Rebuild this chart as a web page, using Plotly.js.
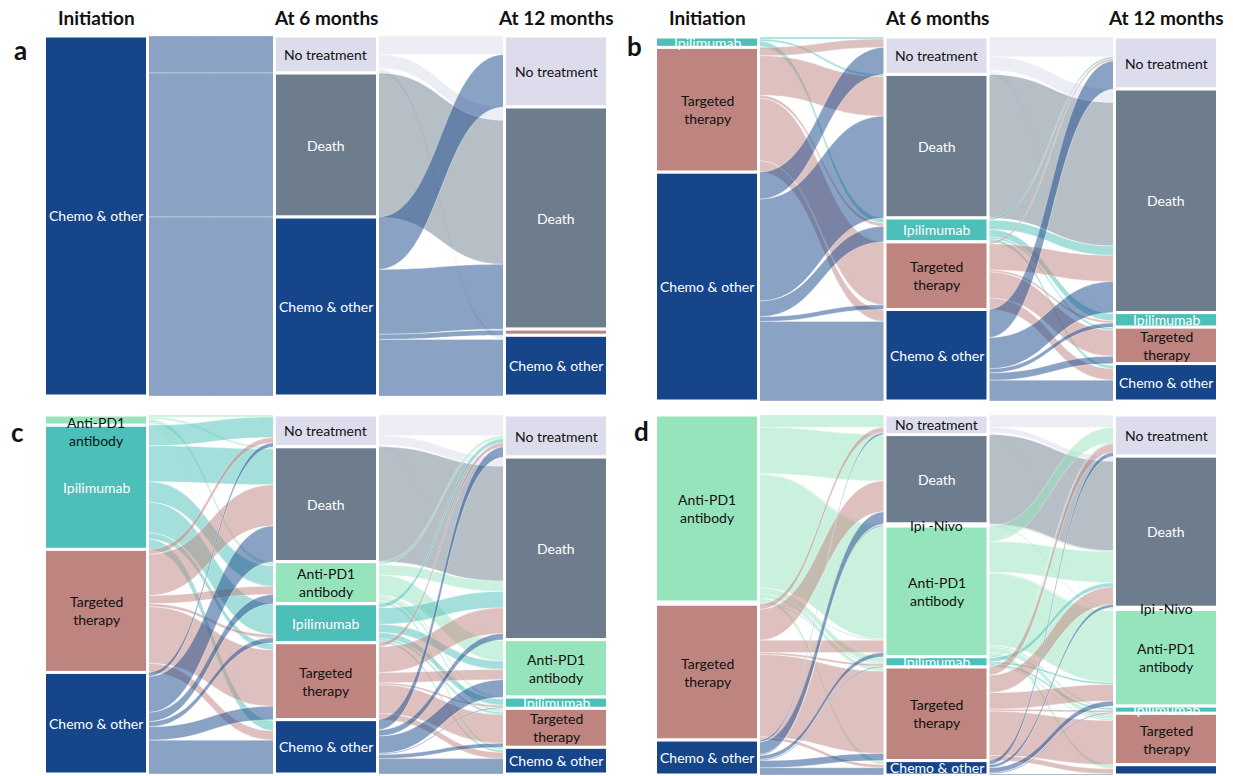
<!DOCTYPE html>
<html>
<head>
<meta charset="utf-8">
<script src="https://cdn.plot.ly/plotly-3.0.1.min.js"></script>
<style>
  html, body { margin: 0; padding: 0; background: #ffffff; }
  #chart { width: 1233px; height: 776px; }
</style>
</head>
<body>
<div id="chart"></div>
<script>
// ---------------- DATA ----------------
const stageHeaders = ["Initiation", "At 6 months", "At 12 months"];
const panelLetters = ["a", "b", "c", "d"];

// Panel a
const aStage0 = ["Chemo & other"];
const aStage6 = ["No treatment", "Death", "Chemo & other"];
const aStage12 = ["No treatment", "Death", "Targeted therapy", "Chemo & other"];
const aFlows1 = [
  ["Chemo & other", "No treatment", 36],
  ["Chemo & other", "Death", 140],
  ["Chemo & other", "Chemo & other", 174]
];
const aFlows2 = [
  ["No treatment", "No treatment", 18], ["No treatment", "Death", 13],
  ["No treatment", "Targeted therapy", 1], ["No treatment", "Chemo & other", 4],
  ["Death", "Death", 140],
  ["Chemo & other", "No treatment", 51], ["Chemo & other", "Death", 63],
  ["Chemo & other", "Targeted therapy", 5], ["Chemo & other", "Chemo & other", 55]
];
const aHidden = [[2, "Targeted therapy"]];

// Panel b
const bStage0 = ["Ipilimumab", "Targeted therapy", "Chemo & other"];
const bStage6 = ["No treatment", "Death", "Ipilimumab", "Targeted therapy", "Chemo & other"];
const bStage12 = ["No treatment", "Death", "Ipilimumab", "Targeted therapy", "Chemo & other"];
const bFlows1 = [
  ["Ipilimumab", "No treatment", 2], ["Ipilimumab", "Death", 2], ["Ipilimumab", "Ipilimumab", 5],
  ["Ipilimumab", "Targeted therapy", 0.5], ["Ipilimumab", "Chemo & other", 0.5],
  ["Targeted therapy", "No treatment", 8], ["Targeted therapy", "Death", 38], ["Targeted therapy", "Ipilimumab", 3],
  ["Targeted therapy", "Targeted therapy", 60], ["Targeted therapy", "Chemo & other", 11],
  ["Chemo & other", "No treatment", 26], ["Chemo & other", "Death", 98], ["Chemo & other", "Ipilimumab", 15],
  ["Chemo & other", "Targeted therapy", 4.5], ["Chemo & other", "Chemo & other", 76.5]
];
const bFlows2 = [
  ["No treatment", "No treatment", 19], ["No treatment", "Death", 13], ["No treatment", "Ipilimumab", 1],
  ["No treatment", "Targeted therapy", 1], ["No treatment", "Chemo & other", 2],
  ["Death", "Death", 138],
  ["Ipilimumab", "No treatment", 2], ["Ipilimumab", "Death", 9], ["Ipilimumab", "Ipilimumab", 7],
  ["Ipilimumab", "Targeted therapy", 2], ["Ipilimumab", "Chemo & other", 3],
  ["Targeted therapy", "No treatment", 2], ["Targeted therapy", "Death", 25], ["Targeted therapy", "Ipilimumab", 2],
  ["Targeted therapy", "Targeted therapy", 25], ["Targeted therapy", "Chemo & other", 11],
  ["Chemo & other", "No treatment", 27], ["Chemo & other", "Death", 30], ["Chemo & other", "Ipilimumab", 4],
  ["Chemo & other", "Targeted therapy", 7], ["Chemo & other", "Chemo & other", 20]
];
const bHidden = [];

// Panel c
const cStage0 = ["Anti-PD1 antibody", "Ipilimumab", "Targeted therapy", "Chemo & other"];
const cStage6 = ["No treatment", "Death", "Anti-PD1 antibody", "Ipilimumab", "Targeted therapy", "Chemo & other"];
const cStage12 = ["No treatment", "Death", "Anti-PD1 antibody", "Ipilimumab", "Targeted therapy", "Chemo & other"];
const cFlows1 = [
  ["Anti-PD1 antibody", "No treatment", 2], ["Anti-PD1 antibody", "Death", 2], ["Anti-PD1 antibody", "Anti-PD1 antibody", 4],
  ["Anti-PD1 antibody", "Targeted therapy", 1], ["Anti-PD1 antibody", "Chemo & other", 1],
  ["Ipilimumab", "No treatment", 20], ["Ipilimumab", "Death", 35], ["Ipilimumab", "Anti-PD1 antibody", 20],
  ["Ipilimumab", "Ipilimumab", 30], ["Ipilimumab", "Targeted therapy", 6], ["Ipilimumab", "Chemo & other", 10],
  ["Targeted therapy", "No treatment", 5], ["Targeted therapy", "Death", 40], ["Targeted therapy", "Anti-PD1 antibody", 8],
  ["Targeted therapy", "Ipilimumab", 3], ["Targeted therapy", "Targeted therapy", 55], ["Targeted therapy", "Chemo & other", 9],
  ["Chemo & other", "No treatment", 4], ["Chemo & other", "Death", 35], ["Chemo & other", "Anti-PD1 antibody", 9],
  ["Chemo & other", "Ipilimumab", 5], ["Chemo & other", "Targeted therapy", 13], ["Chemo & other", "Chemo & other", 33]
];
const cFlows2 = [
  ["No treatment", "No treatment", 20], ["No treatment", "Death", 9], ["No treatment", "Anti-PD1 antibody", 1],
  ["No treatment", "Targeted therapy", 1],
  ["Death", "Death", 112],
  ["Anti-PD1 antibody", "No treatment", 3], ["Anti-PD1 antibody", "Death", 10], ["Anti-PD1 antibody", "Anti-PD1 antibody", 20],
  ["Anti-PD1 antibody", "Ipilimumab", 2], ["Anti-PD1 antibody", "Targeted therapy", 3], ["Anti-PD1 antibody", "Chemo & other", 3],
  ["Ipilimumab", "No treatment", 4], ["Ipilimumab", "Death", 16], ["Ipilimumab", "Anti-PD1 antibody", 8],
  ["Ipilimumab", "Ipilimumab", 6], ["Ipilimumab", "Targeted therapy", 2], ["Ipilimumab", "Chemo & other", 2],
  ["Targeted therapy", "No treatment", 4], ["Targeted therapy", "Death", 25], ["Targeted therapy", "Anti-PD1 antibody", 10],
  ["Targeted therapy", "Ipilimumab", 2], ["Targeted therapy", "Targeted therapy", 28], ["Targeted therapy", "Chemo & other", 6],
  ["Chemo & other", "No treatment", 10], ["Chemo & other", "Death", 6], ["Chemo & other", "Anti-PD1 antibody", 17],
  ["Chemo & other", "Ipilimumab", 1], ["Chemo & other", "Targeted therapy", 4], ["Chemo & other", "Chemo & other", 15]
];
const cHidden = [];

// Panel d
const dStage0 = ["Anti-PD1 antibody", "Ipi -Nivo", "Ipilimumab", "Targeted therapy", "Chemo & other"];
const dStage6 = ["No treatment", "Death", "Ipi -Nivo", "Anti-PD1 antibody", "Ipilimumab", "Targeted therapy", "Chemo & other"];
const dStage12 = ["No treatment", "Death", "Ipi -Nivo", "Anti-PD1 antibody", "Ipilimumab", "Targeted therapy", "Chemo & other"];
const dFlows1 = [
  ["Anti-PD1 antibody", "No treatment", 12], ["Anti-PD1 antibody", "Death", 45], ["Anti-PD1 antibody", "Ipi -Nivo", 1],
  ["Anti-PD1 antibody", "Anti-PD1 antibody", 110], ["Anti-PD1 antibody", "Ipilimumab", 6],
  ["Anti-PD1 antibody", "Targeted therapy", 4], ["Anti-PD1 antibody", "Chemo & other", 4],
  ["Ipi -Nivo", "Anti-PD1 antibody", 1],
  ["Ipilimumab", "Ipilimumab", 1],
  ["Targeted therapy", "No treatment", 5], ["Targeted therapy", "Death", 30], ["Targeted therapy", "Anti-PD1 antibody", 12],
  ["Targeted therapy", "Ipilimumab", 2], ["Targeted therapy", "Targeted therapy", 80], ["Targeted therapy", "Chemo & other", 3],
  ["Chemo & other", "No treatment", 2], ["Chemo & other", "Death", 12], ["Chemo & other", "Ipi -Nivo", 1],
  ["Chemo & other", "Anti-PD1 antibody", 4], ["Chemo & other", "Ipilimumab", 1], ["Chemo & other", "Targeted therapy", 7],
  ["Chemo & other", "Chemo & other", 7]
];
const dFlows2 = [
  ["No treatment", "No treatment", 12], ["No treatment", "Death", 5], ["No treatment", "Anti-PD1 antibody", 1],
  ["No treatment", "Targeted therapy", 1],
  ["Death", "Death", 87],
  ["Ipi -Nivo", "Death", 1], ["Ipi -Nivo", "Ipi -Nivo", 1],
  ["Anti-PD1 antibody", "No treatment", 15], ["Anti-PD1 antibody", "Death", 30], ["Anti-PD1 antibody", "Ipi -Nivo", 1],
  ["Anti-PD1 antibody", "Anti-PD1 antibody", 70], ["Anti-PD1 antibody", "Ipilimumab", 2],
  ["Anti-PD1 antibody", "Targeted therapy", 5], ["Anti-PD1 antibody", "Chemo & other", 4],
  ["Ipilimumab", "No treatment", 1], ["Ipilimumab", "Death", 4], ["Ipilimumab", "Anti-PD1 antibody", 2],
  ["Ipilimumab", "Ipilimumab", 2], ["Ipilimumab", "Targeted therapy", 1],
  ["Targeted therapy", "No treatment", 8], ["Targeted therapy", "Death", 17], ["Targeted therapy", "Anti-PD1 antibody", 16],
  ["Targeted therapy", "Ipilimumab", 2], ["Targeted therapy", "Targeted therapy", 43], ["Targeted therapy", "Chemo & other", 5],
  ["Chemo & other", "No treatment", 4], ["Chemo & other", "Death", 3], ["Chemo & other", "Anti-PD1 antibody", 5],
  ["Chemo & other", "Ipilimumab", 1], ["Chemo & other", "Chemo & other", 1]
];
const dHidden = [[0, "Ipi -Nivo"], [0, "Ipilimumab"], [2, "Chemo & other"]];

// ---------------- STYLE ----------------
const nodeColors = {
  "No treatment": "#dcdcec",
  "Death": "#6e7d8d",
  "Chemo & other": "#16458a",
  "Targeted therapy": "#be847f",
  "Ipilimumab": "#4bbfb8",
  "Anti-PD1 antibody": "#96e4bc",
  "Ipi -Nivo": "#eef6f2"
};
const linkColors = {
  "No treatment": "rgba(220,220,236,0.5)",
  "Death": "rgba(110,125,141,0.5)",
  "Chemo & other": "rgba(22,69,138,0.5)",
  "Targeted therapy": "rgba(190,132,127,0.5)",
  "Ipilimumab": "rgba(75,191,184,0.5)",
  "Anti-PD1 antibody": "rgba(150,228,188,0.5)",
  "Ipi -Nivo": "rgba(150,200,190,0.5)"
};
const labelText = {
  "Targeted therapy": "Targeted<br>therapy",
  "Anti-PD1 antibody": "Anti-PD1<br>antibody"
};
const whiteLabel = ["Death", "Chemo & other", "Ipilimumab"];

const FIG_W = 1233, FIG_H = 776;
const NODE_FILL = 100, NODE_LINE = 3;
const FONT = "Lato, 'Open Sans', sans-serif";

const panels = [
  { cols: [aStage0, aStage6, aStage12], flows: [aFlows1, aFlows2], hidden: aHidden,
    box: { l: 46, r: 606, t: 36, b: 396 }, letter: { x: 20, y: 50 }, headers: true },
  { cols: [bStage0, bStage6, bStage12], flows: [bFlows1, bFlows2], hidden: bHidden,
    box: { l: 657, r: 1216, t: 37, b: 401 }, letter: { x: 634, y: 46 }, headers: true },
  { cols: [cStage0, cStage6, cStage12], flows: [cFlows1, cFlows2], hidden: cHidden,
    box: { l: 46, r: 606, t: 415, b: 774 }, letter: { x: 17, y: 432 }, headers: false },
  { cols: [dStage0, dStage6, dStage12], flows: [dFlows1, dFlows2], hidden: dHidden,
    box: { l: 657, r: 1216, t: 415, b: 775 }, letter: { x: 641, y: 431 }, headers: false }
];

const traces = [];
const annotations = [];

panels.forEach((p, pi) => {
  const nodes = [];
  const idx = {};
  p.cols.forEach((col, c) => col.forEach(name => {
    idx[c + "|" + name] = nodes.length;
    nodes.push({ name: name, col: c, vin: 0, vout: 0 });
  }));
  const src = [], tgt = [], val = [], lcol = [];
  p.flows.forEach((fl, s) => fl.forEach(f => {
    const i = idx[s + "|" + f[0]], j = idx[(s + 1) + "|" + f[1]];
    src.push(i); tgt.push(j); val.push(f[2]); lcol.push(linkColors[f[0]]);
    nodes[i].vout += f[2]; nodes[j].vin += f[2];
  }));
  const W = p.box.r - p.box.l, H = p.box.b - p.box.t;
  const totals = [0, 0, 0];
  nodes.forEach(n => { n.v = Math.max(n.vin, n.vout); totals[n.col] += n.v; });
  const ky = Math.min.apply(null, totals.map(t => H / t));
  const cum = [0, 0, 0];
  nodes.forEach(n => {
    n.h = n.v * ky;
    n.cy = cum[n.col] + n.h / 2;
    cum[n.col] += n.h;
    n.cx = NODE_FILL / 2 + n.col * (W - NODE_FILL) / 2;
  });

  traces.push({
    type: "sankey",
    arrangement: "fixed",
    domain: { x: [p.box.l / FIG_W, p.box.r / FIG_W], y: [1 - p.box.b / FIG_H, 1 - p.box.t / FIG_H] },
    node: {
      label: nodes.map(() => ""),
      customdata: nodes.map(n => n.name),
      hovertemplate: "%{customdata}<extra></extra>",
      x: nodes.map(n => n.cx / W),
      y: nodes.map(n => n.cy / H),
      color: nodes.map(n => nodeColors[n.name]),
      thickness: NODE_FILL + NODE_LINE,
      pad: 0,
      line: { color: "#ffffff", width: NODE_LINE }
    },
    link: {
      source: src, target: tgt, value: val, color: lcol,
      line: { color: "rgba(255,255,255,0.7)", width: 0.5 }
    }
  });

  const hiddenKeys = p.hidden.map(h => h[0] + "|" + h[1]);
  nodes.forEach(n => {
    if (hiddenKeys.indexOf(n.col + "|" + n.name) >= 0) return;
    const txt = labelText[n.name] || n.name;
    const twoLine = txt.indexOf("<br>") >= 0;
    const tiny = twoLine && n.h < 30;
    annotations.push({
      xref: "paper", yref: "paper",
      x: (p.box.l + n.cx) / FIG_W,
      y: 1 - (p.box.t + n.cy) / FIG_H,
      text: txt, showarrow: false,
      xanchor: "center", yanchor: tiny ? "top" : "middle", yshift: tiny ? 8 : 0,
      font: { family: FONT, size: 14, color: whiteLabel.indexOf(n.name) >= 0 ? "#ffffff" : "#111111" }
    });
  });

  if (p.headers) {
    stageHeaders.forEach((h, c) => {
      annotations.push({
        xref: "paper", yref: "paper",
        x: (p.box.l + NODE_FILL / 2 + c * (W - NODE_FILL) / 2) / FIG_W,
        y: 1 - 17 / FIG_H,
        text: "<b>" + h + "</b>", showarrow: false, xanchor: "center", yanchor: "middle",
        font: { family: FONT, size: 19, color: "#111111" }
      });
    });
  }
  annotations.push({
    xref: "paper", yref: "paper",
    x: p.letter.x / FIG_W, y: 1 - p.letter.y / FIG_H,
    text: "<b>" + panelLetters[pi] + "</b>", showarrow: false, xanchor: "center", yanchor: "middle",
    font: { family: FONT, size: 26, color: "#111111" }
  });
});

const layout = {
  width: FIG_W, height: FIG_H,
  margin: { l: 0, r: 0, t: 0, b: 0 },
  paper_bgcolor: "#ffffff",
  font: { family: FONT, size: 14 },
  showlegend: false,
  annotations: annotations
};

Plotly.newPlot("chart", traces, layout, { displayModeBar: false });
</script>
</body>
</html>
